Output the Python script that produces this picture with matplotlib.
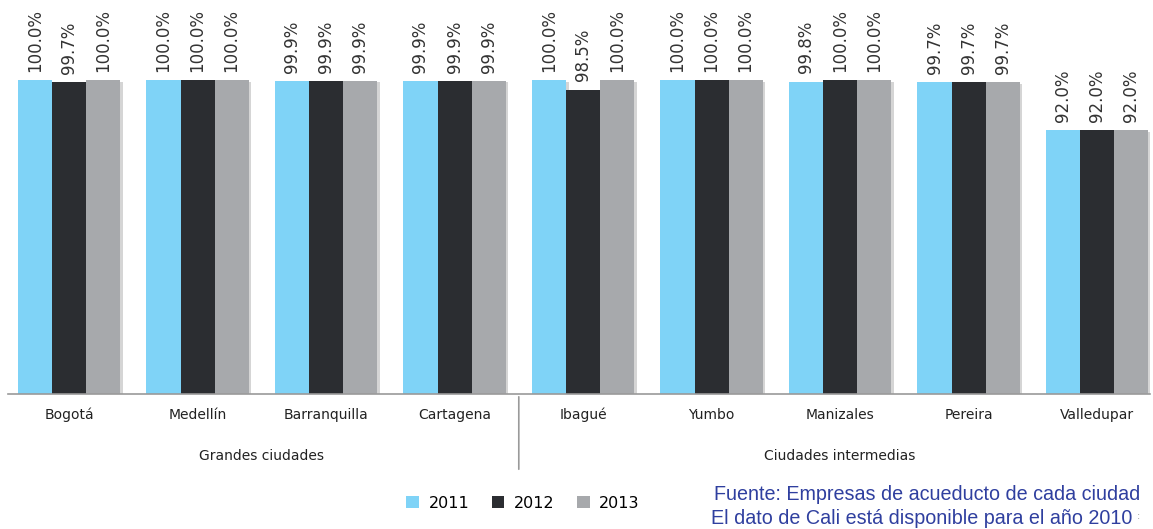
import numpy as np
import matplotlib.pyplot as plt
import matplotlib.patheffects as pe

# Cobertura de acueducto por ciudad (%)
ciudades = ['Bogotá', 'Medellín', 'Barranquilla', 'Cartagena', 'Ibagué',
            'Yumbo', 'Manizales', 'Pereira', 'Valledupar']
v2011 = [100.0, 100.0, 99.9, 99.9, 100.0, 100.0, 99.8, 99.7, 92.0]
v2012 = [99.7, 100.0, 99.9, 99.9, 98.5, 100.0, 100.0, 99.7, 92.0]
v2013 = [100.0, 100.0, 99.9, 99.9, 100.0, 100.0, 100.0, 99.7, 92.0]
anios = ['2011', '2012', '2013']
grupos = ['Grandes ciudades', 'Ciudades intermedias']
n_grandes = 4

colores = ['#7fd3f7', '#2b2d31', '#a7a9ac']

fig = plt.figure(figsize=(11.53, 5.29), dpi=100)
ax = fig.add_axes([8 / 1153, 1 - 394 / 529, 1142 / 1153, 394 / 529])

x = np.arange(len(ciudades))
w = 0.265
sombra = [pe.SimplePatchShadow(offset=(2, -1), shadow_rgbFace='#888888', alpha=0.35), pe.Normal()]

for i, (serie, c, lab) in enumerate(zip([v2011, v2012, v2013], colores, anios)):
    barras = ax.bar(x + (i - 1) * w, serie, w, color=c, label=lab, zorder=2)
    for b in barras:
        b.set_path_effects(sombra)
    for xi, v in zip(x + (i - 1) * w, serie):
        ax.annotate(f'{v:.1f}%', (xi, v), xytext=(0, 6), textcoords='offset points',
                    rotation=90, ha='center', va='bottom', fontsize=12, color='#333333')

ax.set_ylim(50, 112.8)
ax.set_xlim(-0.475, 8.412)
for s in ['top', 'right', 'left']:
    ax.spines[s].set_visible(False)
ax.spines['bottom'].set_color('#9a9a9a')
ax.spines['bottom'].set_linewidth(1.2)
ax.set_yticks([])
ax.set_xticks(x)
ax.set_xticklabels(ciudades, fontsize=10, color='#222222')
ax.tick_params(axis='x', length=0, pad=10)

# separador entre grupos de ciudades
sep = n_grandes - 0.5
ax.annotate('', xy=(sep, 0), xycoords=('data', 'axes fraction'),
            xytext=(sep, -78 / 394), textcoords=('data', 'axes fraction'),
            arrowprops=dict(arrowstyle='-', color='#9a9a9a', lw=1.2))
ax.text((n_grandes - 1) / 2, -62 / 394, grupos[0], transform=ax.get_xaxis_transform(),
        ha='center', va='center', fontsize=10, color='#222222')
ax.text((n_grandes + len(ciudades) - 1) / 2, -62 / 394, grupos[1],
        transform=ax.get_xaxis_transform(), ha='center', va='center', fontsize=10, color='#222222')

leg = fig.legend(loc='center', bbox_to_anchor=(523 / 1153, 1 - 503 / 529), ncol=3, frameon=False,
                 fontsize=11.5, handlelength=0.8, handleheight=0.8, handletextpad=0.6,
                 columnspacing=1.4)
for h in leg.legend_handles:
    h.set_path_effects([])

azul = '#2f3f9f'
fig.text(1140 / 1153, 1 - 494 / 529, 'Fuente: Empresas de acueducto de cada ciudad',
         ha='right', va='center', fontsize=14.2, color=azul, family='Liberation Sans')
fig.text(1132 / 1153, 1 - 518 / 529, 'El dato de Cali está disponible para el año 2010',
         ha='right', va='center', fontsize=14.2, color=azul, family='Liberation Sans')
fig.text(1137 / 1153, 1 - 516 / 529, ':', ha='left', va='center', fontsize=7, color='#999999')

fig.savefig('out.png', dpi=100)
